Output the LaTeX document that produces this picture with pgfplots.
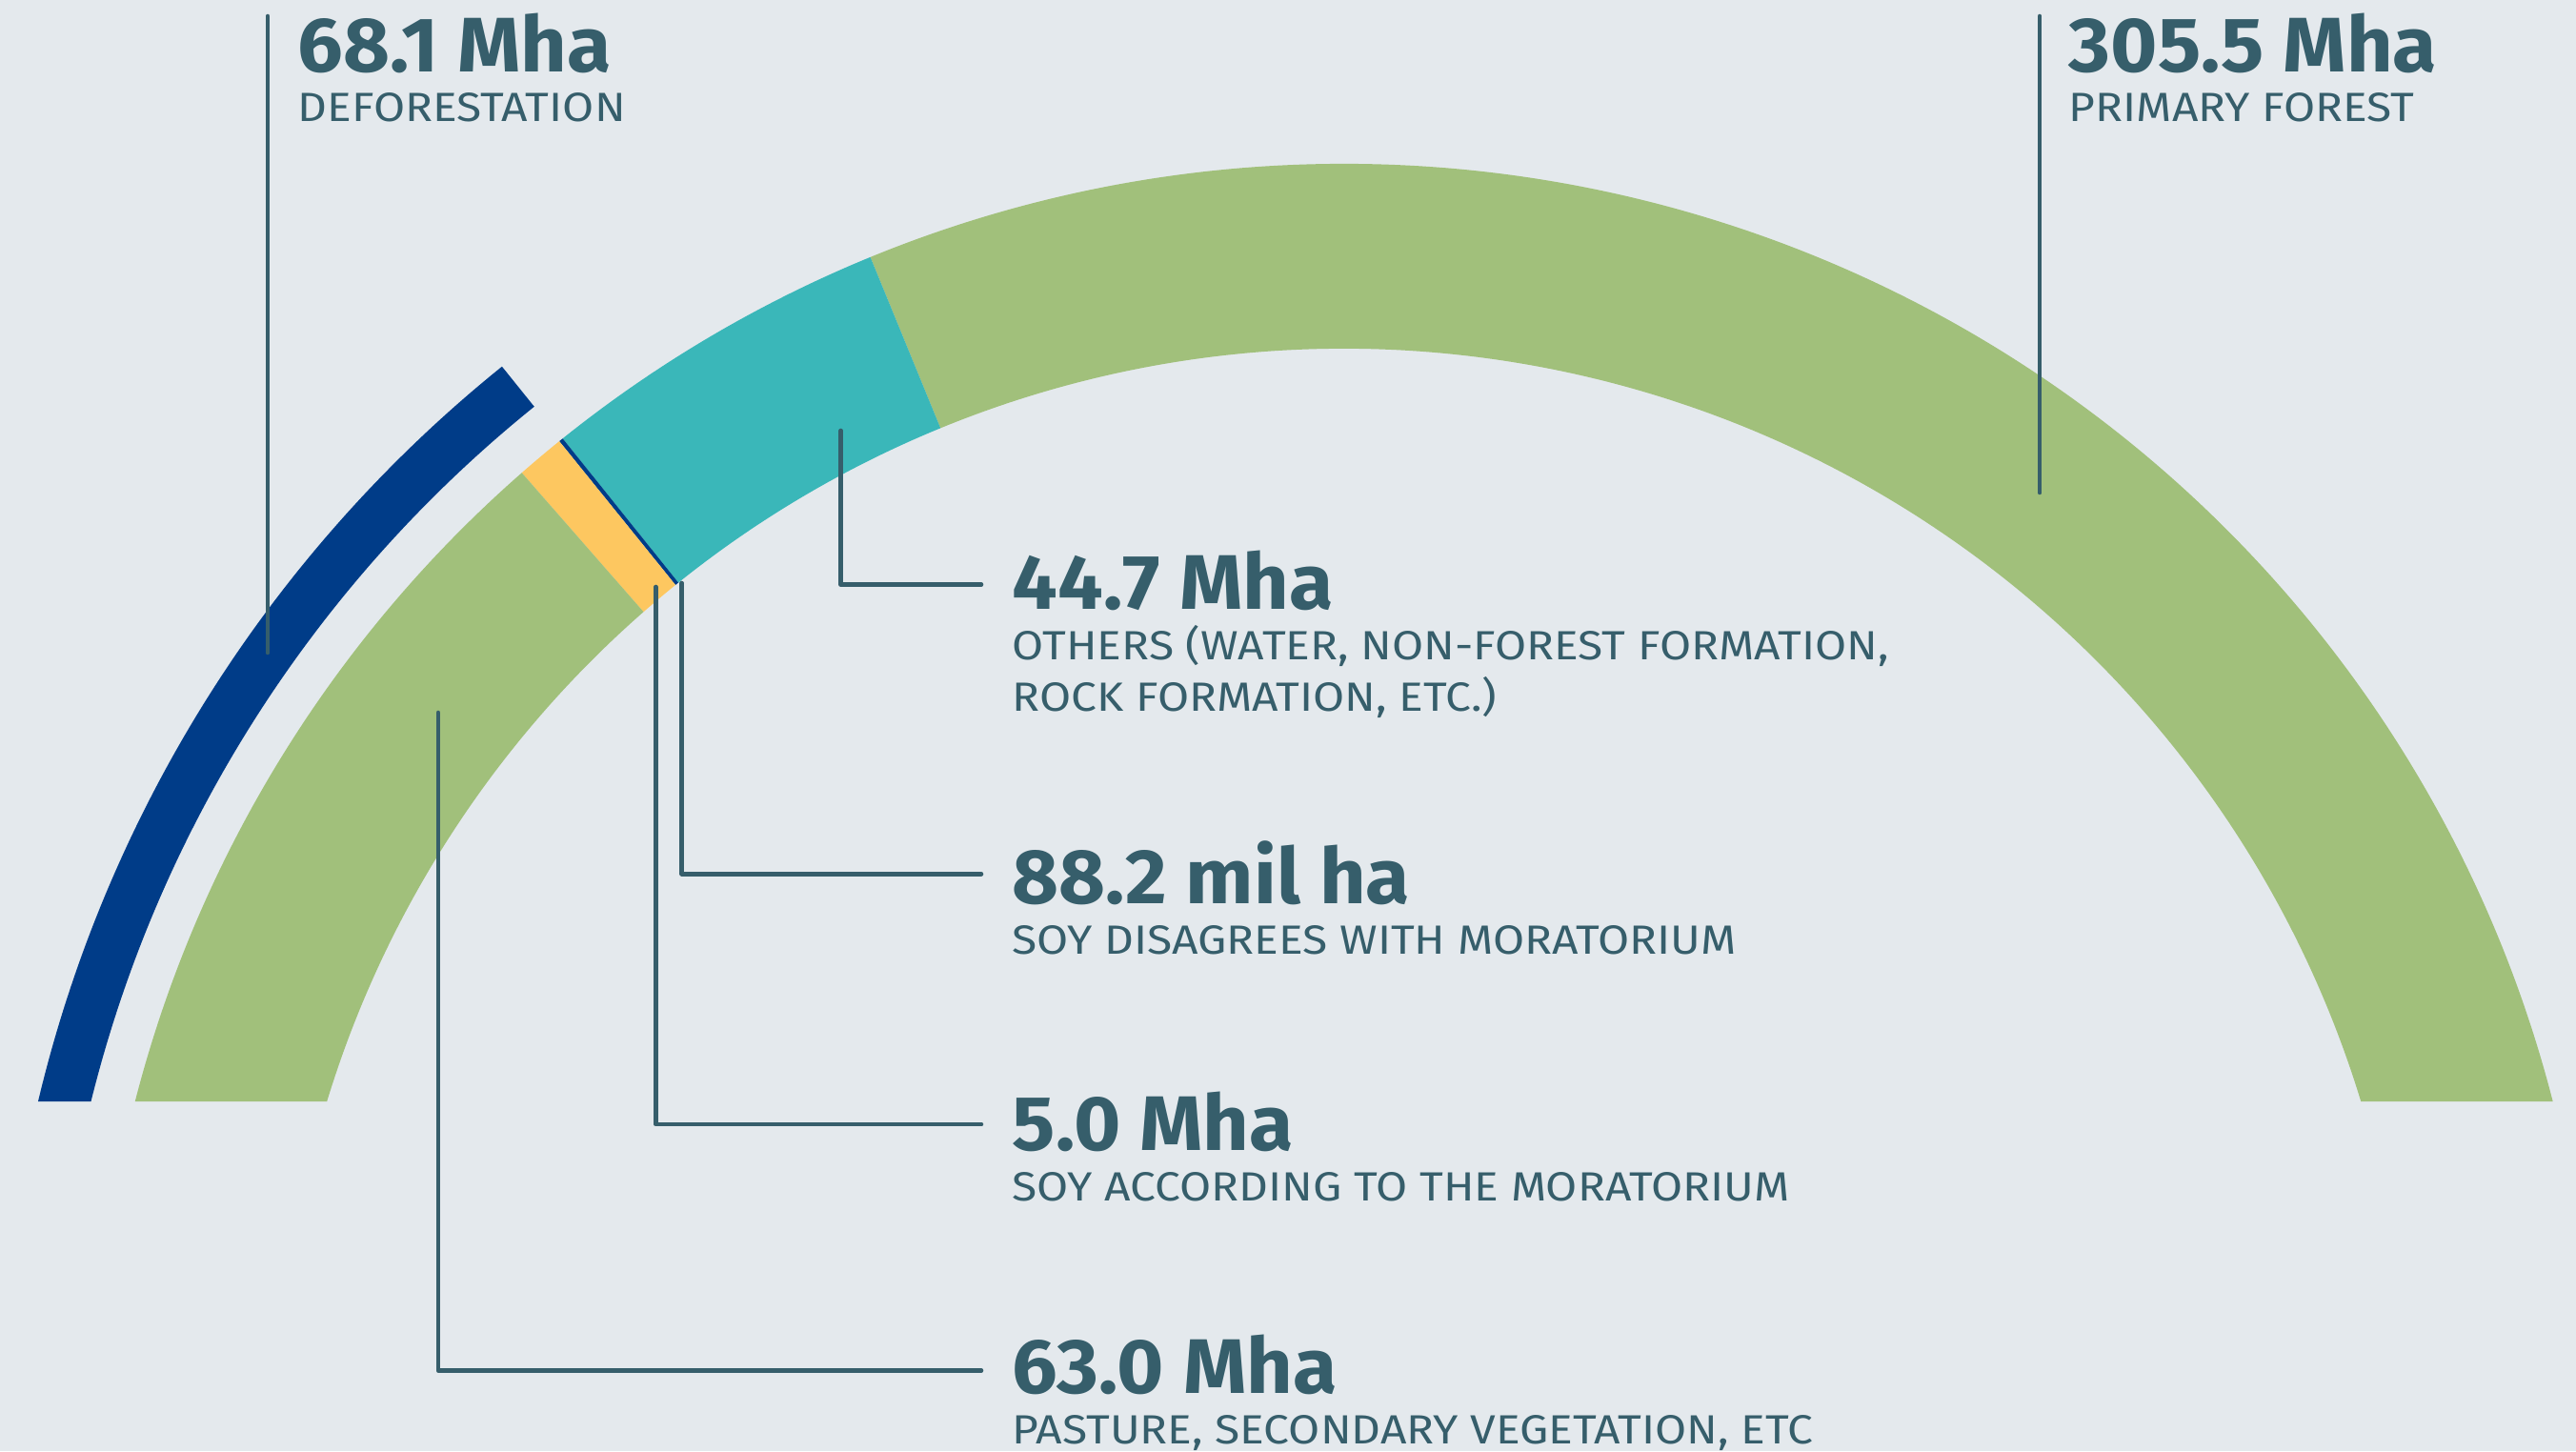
\documentclass[border=0pt]{standalone}
\usepackage{pgfplots}
\pgfplotsset{compat=1.18}
\usepackage{fontspec}
\setmainfont{Fira Sans}
\newfontfamily\numfont[FakeStretch=1.04]{Fira Sans}
\newfontfamily\lblfont[FakeStretch=1.12]{Fira Sans}
\definecolor{bg}{HTML}{E4E9ED}
\definecolor{forest}{HTML}{A1C07B}
\definecolor{others}{HTML}{3AB7B9}
\definecolor{soyok}{HTML}{FDC760}
\definecolor{defo}{HTML}{003C88}
\definecolor{txt}{HTML}{365E6B}
% outer arc a1o->a2o, inner arc a2i->a1i
\newcommand\ringseg[7]{%
  \fill[#1] ([shift={(#2:#7)}]C) arc[start angle=#2, end angle=#3, radius=#7]
    -- ([shift={(#5:#6)}]C) arc[start angle=#5, end angle=#4, radius=#6] -- cycle;}
\tikzset{
  numlbl/.style={anchor=base west, inner sep=0pt, text=txt, font=\numfont\bfseries\fontsize{20.3}{24}\selectfont},
  sublbl/.style={anchor=base west, inner sep=0pt, text=txt, align=left, font=\lblfont\fontsize{10.7}{13.3}\selectfont},
  leader/.style={draw=txt, line width=1.15pt, line cap=round, line join=round}
}
\begin{document}
\begin{tikzpicture}
\begin{axis}[x=0.25pt, y=0.25pt, xmin=0, xmax=2704, ymin=0, ymax=1523,
  y dir=reverse, hide axis, clip=false, scale only axis,
  anchor=south west, at={(0,0)}]
\fill[bg] (axis cs:0,0) rectangle (axis cs:2704,1523);
\coordinate (C) at (axis cs:1410.7,1482);
% ring segments (angles)
% primary forest 305.5 Mha
\ringseg{forest}{14.41}{112.3}{16.98}{112.3}{279.05pt}{327.55pt}
% others 44.7 Mha
\ringseg{others}{112.3}{128.75}{112.3}{128.75}{279.05pt}{327.55pt}
% soy disagrees 88.2 mil ha
\ringseg{defo}{128.75}{128.95}{128.75}{128.95}{279.05pt}{327.55pt}
% soy according 5.0 Mha
\ringseg{soyok}{128.95}{131.2}{128.95}{131.2}{279.05pt}{327.55pt}
% pasture 63.0 Mha
\ringseg{forest}{131.2}{165.59}{131.2}{163.02}{279.05pt}{327.55pt}
% deforestation 68.1 Mha
\ringseg{defo}{128.85}{166.62}{128.85}{166.08}{338.75pt}{352.25pt}
% leader lines
\draw[leader] (axis cs:281,17) -- (axis cs:281,685);
\draw[leader] (axis cs:2141,17) -- (axis cs:2141,517);
\draw[leader] (axis cs:882.7,452) -- (axis cs:882.7,613.5) -- (axis cs:1030,613.5);
\draw[leader] (axis cs:715.7,612) -- (axis cs:715.7,917.3) -- (axis cs:1030,917.3);
\draw[leader] (axis cs:688.3,616) -- (axis cs:688.3,1180) -- (axis cs:1030,1180);
\draw[leader] (axis cs:460,748) -- (axis cs:460,1438.5) -- (axis cs:1030,1438.5);
% labels
\node[numlbl] at (axis cs:312,75) {68.1 Mha};
\node[sublbl] at (axis cs:312,127.7) {DEFORESTATION};
\node[numlbl] at (axis cs:2171,75) {305.5 Mha};
\node[sublbl] at (axis cs:2171,127.7) {PRIMARY FOREST};
\node[numlbl] at (axis cs:1062,639.3) {44.7 Mha};
\node[sublbl] at (axis cs:1062,692.7) {OTHERS (WATER, NON-FOREST FORMATION,};
\node[sublbl] at (axis cs:1062,746) {ROCK FORMATION, ETC.)};
\node[numlbl] at (axis cs:1062,948.3) {88.2 mil ha};
\node[sublbl] at (axis cs:1062,1001.7) {SOY DISAGREES WITH MORATORIUM};
\node[numlbl] at (axis cs:1062,1207.3) {5.0 Mha};
\node[sublbl] at (axis cs:1062,1260.7) {SOY ACCORDING TO THE MORATORIUM};
\node[numlbl] at (axis cs:1062,1462.7) {63.0 Mha};
\node[sublbl] at (axis cs:1062,1515) {PASTURE, SECONDARY VEGETATION, ETC};
\end{axis}
\pgfresetboundingbox
\path (0,0) rectangle (676pt,380.75pt);
\end{tikzpicture}
\end{document}
